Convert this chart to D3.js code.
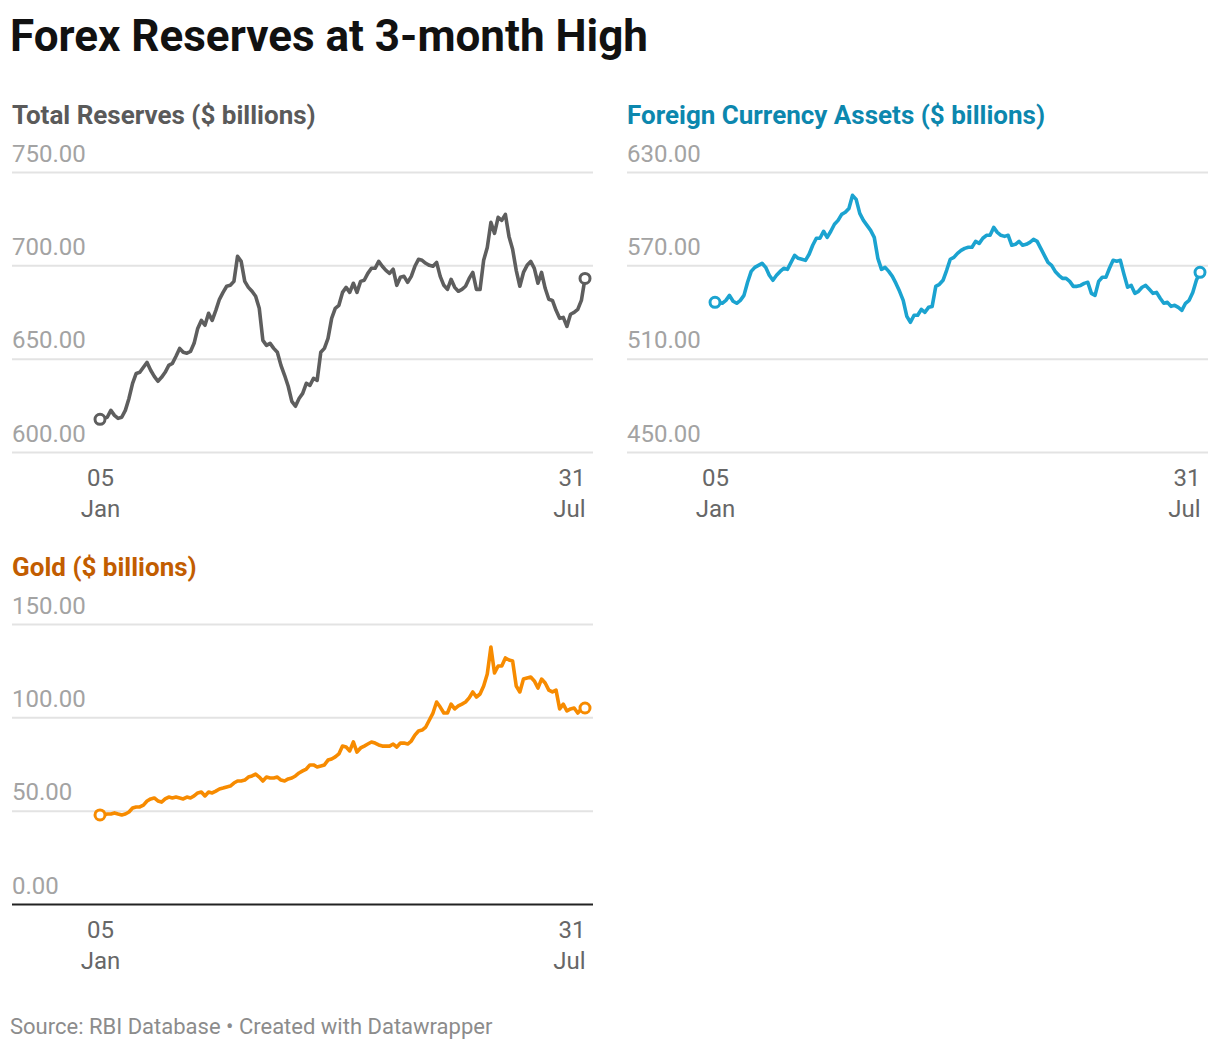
<!DOCTYPE html>
<html>
<head>
<meta charset="utf-8">
<script src="https://cdn.jsdelivr.net/npm/d3@7"></script>
<style>
  body { margin: 0; background: #fff; font-family: Roboto, sans-serif; }
</style>
</head>
<body>
<svg id="chart"></svg>
<script>
// weekly RBI figures, $ billions
const firstWeek = '2024-01-05';

const totalReserves = [
  617.5, 618.0, 618.6, 622.3, 619.6, 618.0, 618.6, 622.3, 628.7, 636.8,
  642.1, 642.7, 645.4, 648.0, 643.8, 640.5, 637.9, 640.0, 642.7, 646.4,
  647.5, 651.3, 655.5, 653.4, 652.9, 653.9, 658.2, 666.2, 670.5, 667.9,
  674.3, 670.5, 675.9, 681.8, 685.5, 688.8, 689.3, 691.4, 704.8, 702.1,
  691.4, 688.2, 686.1, 683.4, 677.0, 659.8, 657.1, 658.2, 655.5, 653.4,
  646.4, 641.1, 635.2, 627.1, 624.5, 628.7, 631.4, 636.8, 635.7, 639.5,
  638.4, 653.4, 655.5, 660.9, 671.6, 677.0, 678.6, 685.5, 688.2, 685.5,
  690.4, 685.5, 691.4, 692.0, 695.7, 698.4, 698.4, 702.1, 699.5, 697.3,
  695.7, 697.9, 689.3, 693.6, 694.1, 690.9, 694.1, 699.5, 703.2, 702.7,
  701.1, 700.0, 699.5, 701.6, 694.1, 689.3, 687.1, 692.5, 688.2, 686.1,
  687.1, 688.8, 693.0, 696.2, 687.1, 687.1, 702.7, 709.6, 723.0, 717.1,
  725.7, 724.1, 727.3, 715.5, 708.6, 697.3, 688.8, 696.2, 700.0, 702.1,
  698.4, 690.4, 696.2, 687.7, 681.8, 681.2, 675.9, 671.6, 672.1, 667.3,
  673.8, 674.8, 676.4, 681.2, 693.0
];

const foreignCurrency = [
  546.2, 546.2, 545.6, 547.5, 550.7, 546.9, 545.6, 547.5, 550.7, 559.1,
  566.1, 568.7, 570.0, 571.3, 568.7, 563.6, 560.4, 563.6, 566.1, 568.1,
  567.4, 571.9, 576.4, 574.5, 573.9, 573.2, 577.1, 582.9, 587.4, 587.4,
  591.9, 588.0, 591.9, 596.4, 598.9, 602.8, 604.1, 606.6, 615.0, 612.4,
  603.4, 598.9, 595.7, 592.5, 588.0, 574.5, 567.4, 568.7, 566.1, 562.9,
  558.4, 553.3, 547.5, 537.2, 533.4, 537.9, 537.9, 541.7, 539.8, 543.0,
  543.6, 556.5, 557.8, 560.4, 566.8, 573.9, 575.1, 577.7, 579.6, 580.9,
  581.6, 581.6, 585.4, 584.1, 587.4, 589.3, 589.3, 594.4, 591.2, 589.3,
  588.6, 589.3, 582.9, 583.5, 585.4, 582.9, 583.5, 584.8, 586.7, 585.4,
  580.9, 576.4, 571.9, 570.0, 566.1, 563.6, 561.6, 561.6, 559.7, 556.5,
  556.5, 557.1, 558.4, 559.1, 552.0, 550.7, 559.7, 562.3, 562.3, 568.1,
  573.2, 572.6, 573.2, 564.2, 555.9, 557.1, 552.0, 553.3, 555.9, 557.1,
  554.6, 552.0, 552.6, 548.8, 545.6, 546.2, 543.6, 544.3, 543.0, 541.1,
  545.6, 547.5, 552.6, 560.4, 565.5
];

const gold = [
  47.7, 47.7, 48.2, 48.2, 48.8, 48.2, 47.7, 48.2, 49.3, 51.4,
  52.0, 52.0, 53.0, 55.2, 56.3, 56.8, 55.2, 54.6, 56.3, 57.3,
  56.8, 57.3, 56.8, 56.3, 57.3, 56.8, 57.9, 59.5, 60.0, 57.9,
  60.0, 59.5, 60.5, 61.6, 62.1, 62.7, 63.2, 64.8, 65.9, 65.9,
  66.4, 68.0, 68.6, 69.6, 68.0, 65.9, 68.0, 67.5, 67.5, 68.0,
  66.4, 65.9, 67.0, 67.5, 68.6, 70.2, 71.3, 72.3, 74.5, 74.5,
  73.4, 73.9, 74.5, 77.1, 77.7, 78.8, 80.4, 84.6, 84.1, 82.0,
  86.8, 81.4, 83.6, 84.6, 85.7, 86.8, 86.2, 85.2, 84.6, 84.6,
  84.6, 85.7, 84.1, 86.2, 86.2, 85.7, 87.3, 90.5, 92.7, 93.2,
  94.8, 98.6, 102.3, 108.2, 105.5, 102.3, 102.3, 107.1, 104.5, 106.1,
  107.1, 108.2, 110.4, 113.6, 110.9, 112.5, 116.8, 123.2, 137.7, 123.8,
  127.5, 127.5, 131.8, 130.7, 130.2, 116.8, 113.6, 120.5, 121.1, 121.6,
  119.5, 115.7, 120.5, 118.4, 114.6, 113.6, 114.6, 104.5, 107.1, 103.4,
  104.5, 105.0, 102.3, 104.5, 105.0
];

const totalTicks = [600, 650, 700, 750];
const fcaTicks = [450, 510, 570, 630];
const goldTicks = [0, 50, 100, 150];

const width = 1220;
const height = 1050;

const weeks = totalReserves.map((d, i) => d3.timeWeek.offset(d3.timeParse('%Y-%m-%d')(firstWeek), i));

const panels = [
  { title: 'Total Reserves ($ billions)', values: totalReserves, ticks: totalTicks, color: '#5e5e5e', titleColor: '#5a5a5a', left: 12, top: 0 },
  { title: 'Foreign Currency Assets ($ billions)', values: foreignCurrency, ticks: fcaTicks, color: '#1ba3d0', titleColor: '#0c87ae', left: 627, top: 0 },
  { title: 'Gold ($ billions)', values: gold, ticks: goldTicks, color: '#f78b00', titleColor: '#c25d00', left: 12, top: 452 },
];

const svg = d3.select('#chart')
  .attr('width', width)
  .attr('height', height)
  .style('font-family', 'Roboto, sans-serif');

svg.append('text')
  .attr('x', 10)
  .attr('y', 51)
  .attr('font-size', 44)
  .attr('font-weight', 700)
  .attr('fill', '#111')
  .text('Forex Reserves at 3-month High');

panels.forEach((p) => {
  const g = svg.append('g').attr('transform', `translate(${p.left},${p.top})`);

  const x = d3.scaleTime().domain(d3.extent(weeks)).range([88, 573]);
  const y = d3.scaleLinear().domain(d3.extent(p.ticks)).range([452, 172]);

  g.append('text')
    .attr('x', 0)
    .attr('y', 124)
    .attr('font-size', 26)
    .attr('font-weight', 700)
    .attr('fill', p.titleColor)
    .text(p.title);

  // gridlines with labels sitting above them
  const grid = g.append('g')
    .call(d3.axisRight(y).tickValues(p.ticks).tickSize(581).tickFormat(d3.format('.2f')));
  grid.select('.domain').remove();
  grid.selectAll('.tick line')
    .attr('stroke', d => (d === 0 ? '#222' : '#e3e3e3'))
    .attr('stroke-width', 2);
  grid.selectAll('.tick text')
    .attr('x', 0)
    .attr('y', -11)
    .attr('dy', 0)
    .attr('text-anchor', 'start')
    .attr('font-size', 24)
    .attr('font-family', 'Roboto, sans-serif')
    .attr('fill', '#a3a3a3');

  const xAxis = g.append('g')
    .attr('transform', 'translate(0,452)')
    .call(d3.axisBottom(x).tickValues(d3.extent(weeks)).tickSize(0).tickFormat(''));
  xAxis.select('.domain').remove();
  xAxis.selectAll('.tick text').remove();
  xAxis.selectAll('.tick').each(function (d, i) {
    const t = d3.select(this).append('text')
      .attr('text-anchor', i === 0 ? 'middle' : 'end')
      .attr('font-size', 24)
      .attr('font-family', 'Roboto, sans-serif')
      .attr('fill', '#676767');
    t.append('tspan').attr('x', 0).attr('y', 34).text(d3.timeFormat('%d')(d));
    t.append('tspan').attr('x', 0).attr('y', 65).text(d3.timeFormat('%b')(d));
  });

  const line = d3.line()
    .x((d, i) => x(weeks[i]))
    .y(d => y(d));

  g.append('path')
    .datum(p.values)
    .attr('fill', 'none')
    .attr('stroke', p.color)
    .attr('stroke-width', 3.6)
    .attr('stroke-linejoin', 'round')
    .attr('d', line);

  const ends = [0, p.values.length - 1];
  g.selectAll('circle')
    .data(ends)
    .enter()
    .append('circle')
    .attr('cx', i => x(weeks[i]))
    .attr('cy', i => y(p.values[i]))
    .attr('r', 5)
    .attr('fill', '#fff')
    .attr('stroke', p.color)
    .attr('stroke-width', 3);
});

svg.append('text')
  .attr('x', 10)
  .attr('y', 1034)
  .attr('font-size', 22)
  .attr('fill', '#8c8c8c')
  .text('Source: RBI Database • Created with Datawrapper');
</script>
</body>
</html>
